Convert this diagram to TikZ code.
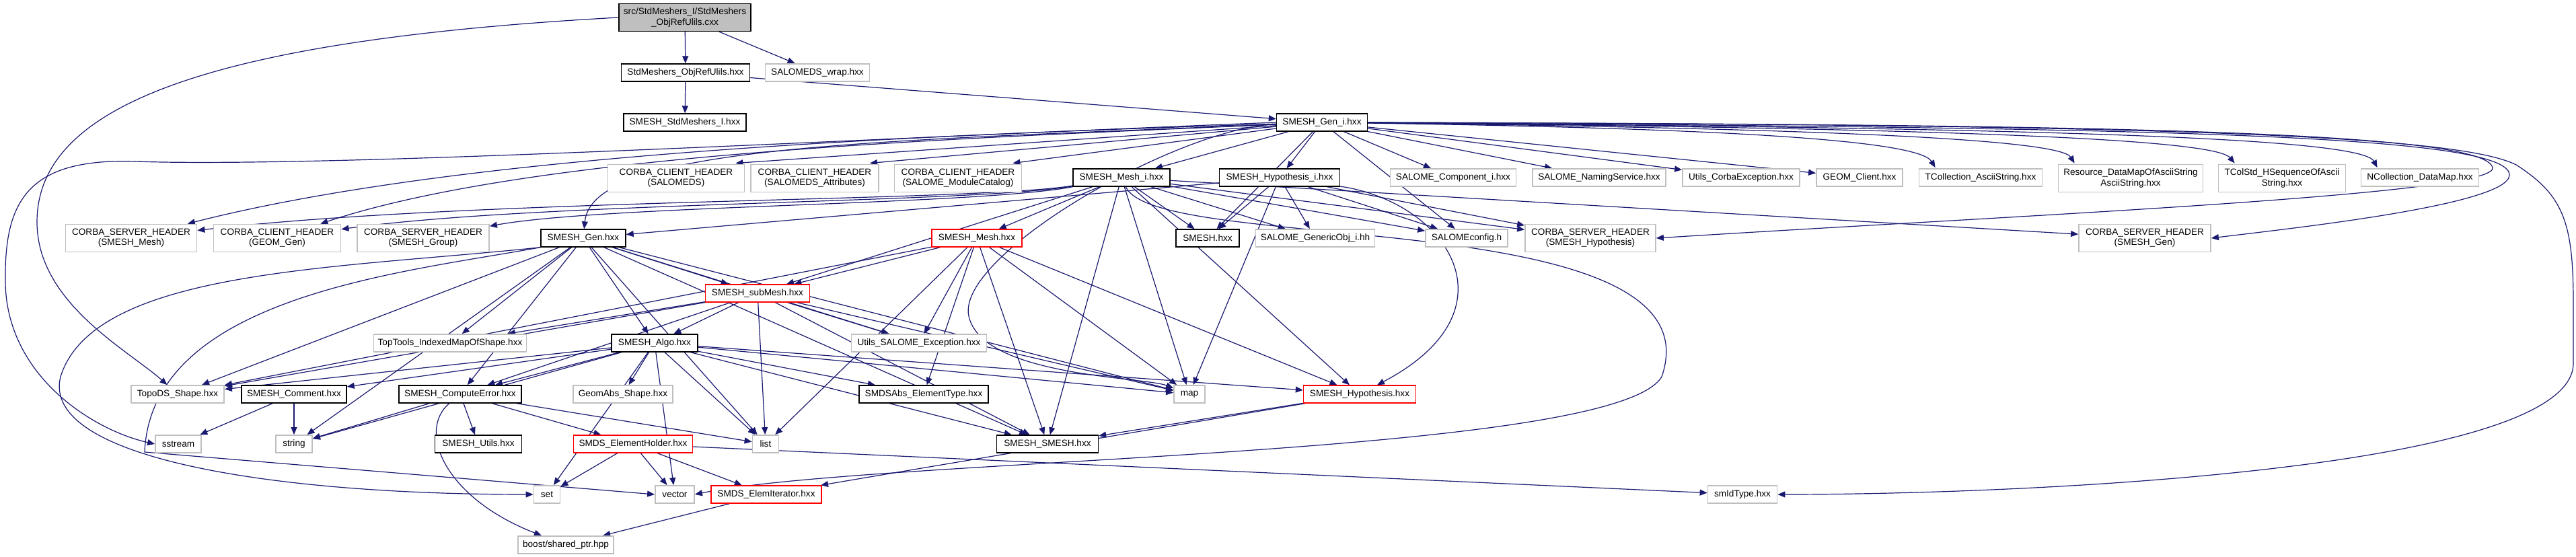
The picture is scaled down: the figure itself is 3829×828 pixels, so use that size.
\documentclass[tikz,border=0pt]{standalone}
\usepackage{fontspec}
\setmainfont{Liberation Sans}
\usetikzlibrary{arrows.meta}
\definecolor{edgeblue}{RGB}{25,25,112}
\definecolor{boxgray}{RGB}{191,191,191}
\definecolor{rootgray}{RGB}{191,191,191}
\pgfdeclarelayer{edges}
\pgfsetlayers{edges,main}

\begin{document}
\begin{tikzpicture}[x=0.5pt, y=-0.5pt,
    font=\fontsize{6.8}{7.6}\selectfont,
    hdr/.style={draw=boxgray, line width=0.9pt, fill=white, inner xsep=2pt, inner ysep=1pt,
                minimum height=13pt, align=center},
    doc/.style={hdr, draw=black, line width=0.7pt},
    trunc/.style={hdr, draw=red, line width=0.7pt},
    rootbox/.style={hdr, draw=black, line width=0.7pt, fill=rootgray},
    twoline/.style={minimum height=20.5pt},
    dep/.style={draw=edgeblue, line width=0.6pt, -{Triangle[length=5.5pt,width=4.5pt]}}]
\useasboundingbox (0,0) rectangle (3829,828);

% top rows
\node[rootbox, twoline, minimum width=98pt] (root) at (1018,26) {src/StdMeshers\_I/StdMeshers\\\_ObjRefUlils.cxx};
\node[doc, minimum width=95.5pt] (objref) at (1019,108) {StdMeshers\_ObjRefUlils.hxx};
\node[hdr, minimum width=77.5pt] (wrap) at (1215,108) {SALOMEDS\_wrap.hxx};
\node[doc, minimum width=91pt] (stdi) at (1018,182) {SMESH\_StdMeshers\_I.hxx};
\node[doc, minimum width=67.5pt] (geni) at (1965,182) {SMESH\_Gen\_i.hxx};

% headers included by SMESH_Gen_i.hxx
\node[hdr, twoline, minimum width=101.5pt] (cSDS) at (1005,265) {CORBA\_CLIENT\_HEADER\\(SALOMEDS)};
\node[hdr, twoline, minimum width=95pt] (cAttr) at (1211,265) {CORBA\_CLIENT\_HEADER\\(SALOMEDS\_Attributes)};
\node[hdr, twoline, minimum width=94.5pt] (cCat) at (1424,265) {CORBA\_CLIENT\_HEADER\\(SALOME\_ModuleCatalog)};
\node[doc, minimum width=72pt] (meshi) at (1667,264) {SMESH\_Mesh\_i.hxx};
\node[doc, minimum width=89.5pt] (hypi) at (1902,264) {SMESH\_Hypothesis\_i.hxx};
\node[hdr, minimum width=93.5pt] (comp) at (2160,264) {SALOME\_Component\_i.hxx};
\node[hdr, minimum width=99pt] (naming) at (2377,264) {SALOME\_NamingService.hxx};
\node[hdr, minimum width=87pt] (ucorba) at (2588,264) {Utils\_CorbaException.hxx};
\node[hdr, minimum width=64pt] (geomc) at (2764,264) {GEOM\_Client.hxx};
\node[hdr, minimum width=91.5pt] (tcoll) at (2944,264) {TCollection\_AsciiString.hxx};
\node[hdr, twoline, minimum width=107.5pt] (resmap) at (3167,265) {Resource\_DataMapOfAsciiString\\AsciiString.hxx};
\node[hdr, twoline, minimum width=94.5pt] (tcolstd) at (3392,265) {TColStd\_HSequenceOfAscii\\String.hxx};
\node[hdr, minimum width=87.5pt] (ncoll) at (3597,264) {NCollection\_DataMap.hxx};

% third row
\node[hdr, twoline, minimum width=97.5pt] (sMesh) at (195,354) {CORBA\_SERVER\_HEADER\\(SMESH\_Mesh)};
\node[hdr, twoline, minimum width=94.5pt] (cGeom) at (412,354) {CORBA\_CLIENT\_HEADER\\(GEOM\_Gen)};
\node[hdr, twoline, minimum width=98pt] (sGroup) at (629,354) {CORBA\_SERVER\_HEADER\\(SMESH\_Group)};
\node[doc, minimum width=63pt] (gen) at (867,354) {SMESH\_Gen.hxx};
\node[trunc, minimum width=67pt] (smeshm) at (1452,354) {SMESH\_Mesh.hxx};
\node[doc, minimum width=47pt] (smeshh) at (1795,354) {SMESH.hxx};
\node[hdr, minimum width=88.5pt] (genobj) at (1955,354) {SALOME\_GenericObj\_i.hh};
\node[hdr, minimum width=61pt] (cfg) at (2180,354) {SALOMEconfig.h};
\node[hdr, twoline, minimum width=97pt] (sHyp) at (2364,354) {CORBA\_SERVER\_HEADER\\(SMESH\_Hypothesis)};
\node[hdr, twoline, minimum width=98pt] (sGen) at (3188,354) {CORBA\_SERVER\_HEADER\\(SMESH\_Gen)};

% lower rows
\node[trunc, minimum width=77.5pt] (submesh) at (1126,436) {SMESH\_subMesh.hxx};
\node[hdr, minimum width=113.5pt] (toptools) at (669,510) {TopTools\_IndexedMapOfShape.hxx};
\node[doc, minimum width=64pt] (algo) at (973,510) {SMESH\_Algo.hxx};
\node[hdr, minimum width=100.5pt] (usalome) at (1366,510) {Utils\_SALOME\_Exception.hxx};
\node[hdr, minimum width=69pt] (topods) at (264,586) {TopoDS\_Shape.hxx};
\node[doc, minimum width=78pt] (comment) at (437,586) {SMESH\_Comment.hxx};
\node[doc, minimum width=91pt] (cerr) at (684,586) {SMESH\_ComputeError.hxx};
\node[hdr, minimum width=74pt] (geomabs) at (926,586) {GeomAbs\_Shape.hxx};
\node[doc, minimum width=96pt] (smdsabs) at (1373,586) {SMDSAbs\_ElementType.hxx};
\node[hdr, minimum width=23pt] (map) at (1768,586) {map};
\node[trunc, minimum width=83.5pt] (hyp) at (2021,586) {SMESH\_Hypothesis.hxx};
\node[hdr, minimum width=34pt] (sstream) at (265,660) {sstream};
\node[hdr, minimum width=27pt] (string) at (437,660) {string};
\node[doc, minimum width=64.5pt] (utils) at (711,660) {SMESH\_Utils.hxx};
\node[trunc, minimum width=88.5pt] (holder) at (941,660) {SMDS\_ElementHolder.hxx};
\node[hdr, minimum width=19.5pt] (list) at (1138,660) {list};
\node[doc, minimum width=75.5pt] (smesh) at (1557,660) {SMESH\_SMESH.hxx};
\node[hdr, minimum width=19.5pt] (set) at (813,735) {set};
\node[hdr, minimum width=29pt] (vector) at (1003,735) {vector};
\node[trunc, minimum width=82pt] (iter) at (1139,735) {SMDS\_ElemIterator.hxx};
\node[hdr, minimum width=51.5pt] (smid) at (2590,735) {smIdType.hxx};
\node[hdr, minimum width=71pt] (boost) at (841,810) {boost/shared\_ptr.hpp};

\begin{pgfonlayer}{edges}
% direct includes
\foreach \a/\b in {root/objref, root/wrap, objref/stdi, objref/geni,
    geni/meshi, geni/hypi, geni/comp, geni/naming, geni/ucorba, geni/geomc,
    geni/smeshh, geni/cfg,
    meshi/smeshm, meshi/submesh, meshi/smeshh,
    meshi/genobj, meshi/cfg, meshi/sHyp, meshi/sGen, meshi/hyp, meshi/map, meshi/smesh,
    hypi/gen, hypi/smeshh, hypi/genobj, hypi/cfg, hypi/sHyp, hypi/map,
    gen/submesh, gen/algo, gen/toptools, gen/usalome, gen/cerr, gen/topods, gen/string,
    gen/list, gen/map, gen/smesh,
    smeshm/submesh, smeshm/usalome, smeshm/smdsabs, smeshm/list, smeshm/map, smeshm/smesh,
    smeshm/hyp, smeshm/topods,
    submesh/algo, submesh/toptools, submesh/usalome, submesh/cerr, submesh/topods,
    submesh/list, submesh/map, submesh/smesh,
    algo/topods, algo/comment, algo/cerr, algo/geomabs, algo/string, algo/smdsabs,
    algo/hyp, algo/map, algo/list, algo/set, algo/vector, algo/smesh,
    cerr/string, cerr/utils, cerr/holder, cerr/list,
    comment/sstream, comment/string,
    holder/set, holder/vector, holder/iter, holder/smid,
    iter/boost, hyp/smesh, hyp/iter}
  \draw[dep] (\a) -- (\b);

% into corners of the second row
\foreach \b in {cSDS, cAttr, cCat}
  \draw[dep] (geni) -- ([shift={(-14,-1)}]\b.north east);
\draw[dep] (geni) .. controls (2500,190) and (2850,205) .. ([shift={(25,-1)}]tcoll.north west);
\draw[dep] (geni) .. controls (2650,190) and (3060,205) .. ([shift={(25,-1)}]resmap.north west);
\draw[dep] (geni) .. controls (2850,190) and (3290,205) .. ([shift={(25,-1)}]tcolstd.north west);
\draw[dep] (geni) .. controls (3050,190) and (3510,205) .. ([shift={(25,-1)}]ncoll.north west);

% routed connectors
\draw[dep] (geni) .. controls (1400,200) and (700,225) .. (sMesh);
\draw[dep] (geni) .. controls (1450,205) and (800,225) .. (cGeom);
\draw[dep] (geni) .. controls (1300,210) and (880,215) .. (gen);
\draw[dep] (meshi) .. controls (1450,300) and (700,295) .. (sMesh);
\draw[dep] (meshi) .. controls (1450,302) and (800,300) .. (cGeom);
\draw[dep] (meshi) .. controls (1450,305) and (900,305) .. (sGroup);
\draw[dep] (geni) .. controls (1750,190) and (1420,380) .. (1440,470) .. controls (1460,560) and (1700,560) .. (map);
\draw[dep] (cerr) .. controls (620,640) and (660,740) .. (boost);
\draw[dep] (hypi) .. controls (2150,300) and (2260,460) .. (hyp);
\draw[dep] (root.west) .. controls (300,60) and (55,160) .. (55,330) .. controls (55,450) and (190,520) .. (topods);
\draw[dep] (geni.west) .. controls (1300,205) and (500,250) .. (200,240) .. controls (40,235) and (6,300) .. (8,420) .. controls (10,560) and (140,640) .. (sstream.west);
\draw[dep] (gen.south west) .. controls (500,400) and (140,400) .. (90,560) .. controls (60,680) and (400,735) .. (set.west);
\draw[dep] (gen.south west) .. controls (600,405) and (225,440) .. (215,672) -- (vector.west);
\draw[dep] (geni.east) .. controls (3000,185) and (3700,190) .. (3705,250) .. controls (3705,290) and (3000,320) .. (sHyp.east);
\draw[dep] (geni.east) .. controls (3100,190) and (3730,195) .. (3730,260) .. controls (3730,305) and (3400,340) .. (sGen.east);
\draw[dep] (geni.east) .. controls (3200,185) and (3650,200) .. (3740,245) .. controls (3810,290) and (3825,330) .. (3825,450) -- (3825,540) .. controls (3825,700) and (3000,735) .. (smid.east);
\draw[dep] (meshi) .. controls (1720,380) and (2560,300) .. (2470,560) .. controls (2400,680) and (1300,680) .. (vector.east);
\end{pgfonlayer}
\end{tikzpicture}
\end{document}
